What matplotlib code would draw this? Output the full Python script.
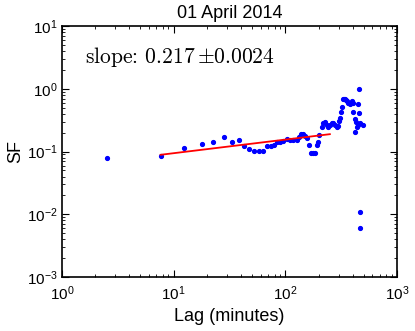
import matplotlib
matplotlib.use("Agg")
import matplotlib.pyplot as plt
import numpy as np

# structure function points
lag = [2.51, 7.65, 12.4, 17.8, 22.6, 28.0, 33.0, 38.2, 42.9, 47.5,
       52.7, 57.7, 62.6, 68.0, 73.9, 78.5, 83.6, 89.5, 94.6, 102.8,
       110, 118, 126, 133, 139, 145, 151, 157, 164, 168,
       175, 183, 191, 196, 201, 211, 218, 226, 234, 242,
       251, 260, 269, 278, 288, 298, 304, 308, 315, 321,
       330, 336, 342, 348, 354, 366, 379, 393, 405, 405,
       417, 422, 429, 441, 450, 446, 453, 459, 464, 498,
       469, 469]
sf = [0.0796, 0.0838, 0.115, 0.130, 0.140, 0.168, 0.140, 0.151, 0.124, 0.111,
      0.101, 0.101, 0.101, 0.121, 0.121, 0.126, 0.143, 0.143, 0.147, 0.160,
      0.151, 0.151, 0.151, 0.172, 0.190, 0.190, 0.177, 0.162, 0.126, 0.0936,
      0.0936, 0.0936, 0.126, 0.143, 0.181, 0.249, 0.281, 0.292, 0.264, 0.243,
      0.264, 0.288, 0.288, 0.264, 0.243, 0.255, 0.310, 0.338, 0.431, 0.517,
      0.679, 0.690, 0.694, 0.670, 0.645, 0.600, 0.571, 0.645, 0.586, 0.426,
      0.330, 0.207, 0.299, 0.249, 0.264, 0.571, 1.0, 0.415, 0.281, 0.262,
      0.0110, 0.0061]

# power law fit
slope = 0.217
slope_err = 0.0024
amp = 0.0572
fit_start = 7.65
fit_end = 250

plt.rcParams['font.family'] = ['Liberation Sans', 'DejaVu Sans']
plt.rcParams['mathtext.fontset'] = 'cm'
plt.rcParams['xtick.direction'] = 'in'
plt.rcParams['ytick.direction'] = 'in'
plt.rcParams['xtick.top'] = True
plt.rcParams['ytick.right'] = True

fig = plt.figure(figsize=(4.15, 3.31), dpi=100)
ax = fig.add_axes([0.149, 0.163, 0.808, 0.758])

ax.plot(lag, sf, '.', color='b', markersize=5.5)
xfit = np.array([fit_start, fit_end])
ax.plot(xfit, amp * xfit ** slope, '-', color='r', linewidth=1.3)

ax.set_xscale('log')
ax.set_yscale('log')
ax.set_xlim(1, 1000)
ax.set_ylim(1e-3, 10)

ax.tick_params(which='major', length=5, width=0.8, labelsize=11)
ax.tick_params(axis='x', which='major', pad=5)
ax.tick_params(axis='y', which='major', pad=3)
ax.tick_params(which='minor', length=2.5, width=0.6)
for s in ax.spines.values():
    s.set_linewidth(1.2)

ax.set_title('01 April 2014', fontsize=13)
ax.set_xlabel('Lag (minutes)', fontsize=13)
ax.set_ylabel('SF', fontsize=13, labelpad=2)
ax.text(0.07, 0.855, r'slope: $%.3f\,{\pm}%.4f$' % (slope, slope_err),
        family='cmr10', transform=ax.transAxes, fontsize=15.5)

fig.savefig('out.png', dpi=100, facecolor='white')
